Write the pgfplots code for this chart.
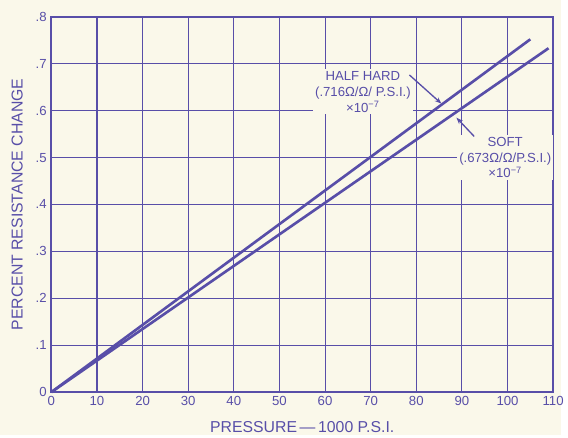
\documentclass[border=0pt]{standalone}
\usepackage{fontspec}
\setmainfont{Liberation Sans}
\usepackage{pgfplots}
\pgfplotsset{compat=1.18}
\usetikzlibrary{backgrounds,calc,arrows.meta}
\definecolor{ink}{RGB}{88,78,168}
\definecolor{paper}{RGB}{250,248,234}
\begin{document}
\begin{tikzpicture}[x=1pt,y=1pt]
\begin{axis}[
  scale only axis,
  width=381pt, height=285pt,
  xmin=0, xmax=110, ymin=0, ymax=0.8,
  xtick={0,10,...,110},
  ytick={0,0.1,...,0.8},
  yticklabels={0,.1,.2,.3,.4,.5,.6,.7,.8},
  /pgf/number format/assume math mode=true,
  grid=major,
  major grid style={ink, line width=0.8pt},
  axis line style={ink, line width=1.6pt},
  tick style={draw=none},
  ticklabel style={ink, font=\normalsize},
  label style={ink, font=\large},
  xlabel={PRESSURE\,—\,1000 P.S.I.},
  ylabel={PERCENT RESISTANCE CHANGE},
  xlabel style={yshift=-5pt},
  ylabel style={yshift=3pt},
  clip=false,
]
\addplot[ink, line width=2pt] coordinates {(0,0) (105,0.752)};
\addplot[ink, line width=2pt] coordinates {(0,0) (109,0.733)};
\node[ink, fill=paper, inner sep=1.5pt, font=\normalsize, align=center] at (axis cs:68.3,0.64)
  {HALF HARD\\(.716Ω/Ω/ P.S.I.)\\×10\textsuperscript{−7}};
\draw[ink, line width=1pt, -{Stealth[length=5pt]}] (axis cs:78.5,0.676) -- (axis cs:85.5,0.615);
\node[ink, fill=paper, inner sep=1.5pt, font=\normalsize, align=center] at (axis cs:99.5,0.500)
  {SOFT\\(.673Ω/Ω/P.S.I.)\\×10\textsuperscript{−7}};
\draw[ink, line width=1pt, -{Stealth[length=5pt]}] (axis cs:92.7,0.545) -- (axis cs:88.8,0.585);
\end{axis}
\begin{scope}[on background layer]
\fill[paper] ($(current axis.south west)+(-39pt,-32.25pt)$) rectangle ($(current axis.north east)+(6pt,12.75pt)$);
\end{scope}
\end{tikzpicture}
\end{document}
